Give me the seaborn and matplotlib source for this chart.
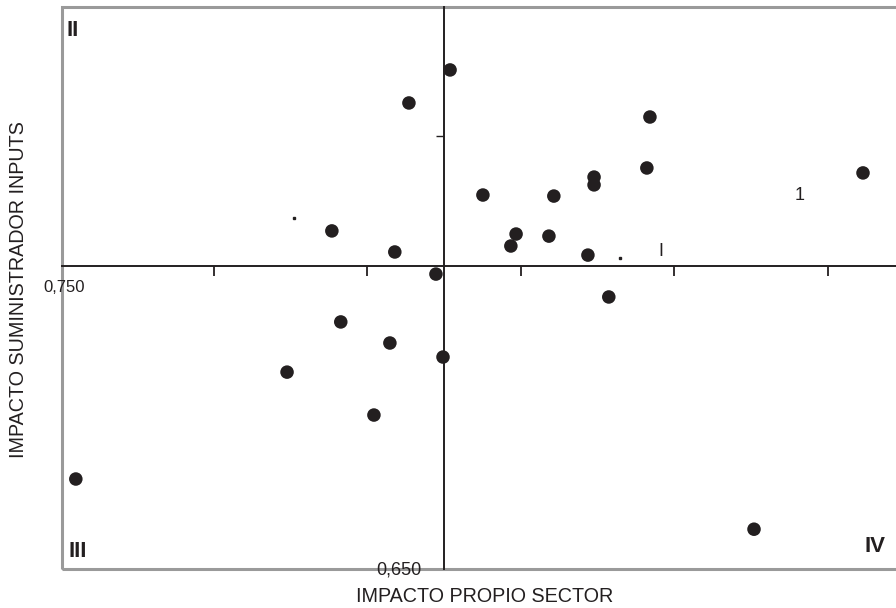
import matplotlib
matplotlib.use("Agg")
import matplotlib.pyplot as plt
import matplotlib.patches as patches
import seaborn as sns
import pandas as pd

# impacto propio sector (x) vs impacto suministrador inputs (y)
propio = [0.6520, 0.6386, 0.7171, 0.7865, 0.7161, 0.6989, 0.6989, 0.6627,
          0.6858, 0.6135, 0.6735, 0.6842, 0.6718, 0.6340, 0.6969, 0.6474,
          0.7037, 0.6164, 0.6324, 0.6497, 0.5989, 0.6272, 0.5301, 0.7510]
suministrador = [0.8254, 0.8127, 0.8073, 0.7858, 0.7877, 0.7842, 0.7812, 0.7773,
                 0.7769, 0.7635, 0.7623, 0.7615, 0.7577, 0.7554, 0.7542, 0.7469,
                 0.7381, 0.7285, 0.7204, 0.7150, 0.7092, 0.6927, 0.6681, 0.6488]

x_centro = 0.650
y_centro = 0.750
x_ticks = [0.575, 0.625, 0.675, 0.725, 0.775]
y_ticks = [0.800]
x_lim = (0.5256, 0.7979)
y_lim = (0.6335, 0.8496)

df = pd.DataFrame({'propio': propio, 'suministrador': suministrador})

sns.set_style("white")
plt.rcParams['font.family'] = ['Liberation Sans', 'DejaVu Sans']

fig = plt.figure(figsize=(8.96, 6.08), dpi=100)
ax = fig.add_axes([62 / 896, 39 / 608, 836 / 896, 562 / 608])

sns.scatterplot(data=df, x='propio', y='suministrador', ax=ax,
                color='#231f20', s=95, edgecolor='none', zorder=3)

ax.set_xlim(*x_lim)
ax.set_ylim(*y_lim)

# axes crossing at the centre values
ax.spines['bottom'].set_position(('data', y_centro))
ax.spines['left'].set_position(('data', x_centro))
ax.spines['top'].set_visible(False)
ax.spines['right'].set_visible(False)
for s in ['bottom', 'left']:
    ax.spines[s].set_color('#231f20')
    ax.spines[s].set_linewidth(1.4)
ax.set_xticks(x_ticks)
ax.set_yticks(y_ticks)
ax.set_xticklabels([])
ax.set_yticklabels([])
ax.tick_params(axis='x', bottom=True, direction='out', length=7, width=1.3,
               color='#231f20')
ax.tick_params(axis='y', left=True, direction='out', length=6, width=1.0,
               color='#231f20')
ax.set_xlabel('')
ax.set_ylabel('')

# grey outer frame
ax.add_patch(patches.Rectangle((0, 0), 1, 1, transform=ax.transAxes, fill=False,
                               edgecolor='#9a9a9a', lw=2.2, clip_on=False, zorder=1))

# quadrant labels
quad = dict(transform=ax.transAxes, fontsize=16, fontweight='bold', color='#231f20')
ax.text(0.005, 0.976, 'II', ha='left', va='top', **quad)
ax.text(0.996, 0.976, 'I', ha='left', va='top', **quad)
ax.text(0.008, 0.012, 'III', ha='left', va='bottom', **quad)
ax.text(0.972, 0.021, 'IV', ha='center', va='bottom', **quad)

# stray marks from the original
ax.text(0.7660, 0.7773, '1', fontsize=13, color='#231f20', ha='center', va='center')
ax.text(0.7207, 0.7554, 'I', fontsize=13, color='#231f20', ha='center', va='center')
ax.plot([0.6011, 0.7073], [0.7685, 0.7531], ls='none', marker='s', ms=2,
        color='#231f20')

# centre values
fig.text(43 / 896, 1 - 288 / 608, '0,750', fontsize=12, color='#231f20',
         ha='left', va='center')
fig.text(399 / 896, 1 - 570 / 608, '0,650', fontsize=13, color='#231f20',
         ha='center', va='center')

# axis titles
fig.text(485 / 896, 1 - 597 / 608, 'IMPACTO PROPIO SECTOR', fontsize=14.2,
         color='#231f20', ha='center', va='center')
fig.text(19 / 896, 1 - 290 / 608, 'IMPACTO SUMINISTRADOR INPUTS', fontsize=14.2,
         color='#231f20', ha='center', va='center', rotation=90)

plt.savefig('out.png', dpi=100)
